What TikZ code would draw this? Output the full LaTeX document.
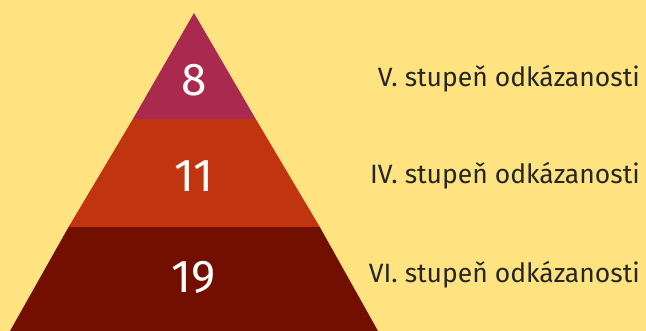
\documentclass[tikz,border=0pt]{standalone}
\usepackage{fontspec}
\setmainfont{Fira Sans}
\usepackage{tikz}
\usetikzlibrary{positioning}

\definecolor{bgyellow}{HTML}{FFE380}
\definecolor{toplayer}{HTML}{A92A4E}
\definecolor{midlayer}{HTML}{C03410}
\definecolor{botlayer}{HTML}{730F00}
\definecolor{labeltext}{HTML}{262626}

\begin{document}
\begin{tikzpicture}[
    x=1pt, y=-1pt,
    count/.style={font=\fontsize{46}{46}\selectfont, text=white, inner sep=0pt},
    level/.style={font=\fontsize{26.5}{26.5}\selectfont, text=labeltext, anchor=base east, inner sep=0pt},
]

% Background
\fill[bgyellow] (0,0) rectangle (646,331);
\useasboundingbox (0,0) rectangle (646,331);

% Pyramid layers
\fill[botlayer] (10,331) -- (68.6,227) -- (319.8,227) -- (378,331) -- cycle;
\fill[midlayer] (68.6,227) -- (132.9,119) -- (255.7,119) -- (319.8,227) -- cycle;
\fill[toplayer] (132.9,119) -- (194,13) -- (255.7,119) -- cycle;

% Counts
\node[count] (eight) at (194,80) {8};
\node[count] (eleven) at (194,176) {11};
\node[count] (nineteen) at (194,277) {19};

% Level labels
\node[level] (five) at (640,87) {V. stupeň odkázanosti};
\node[level] (four) at (640,184) {IV. stupeň odkázanosti};
\node[level] (six) at (640,283) {VI. stupeň odkázanosti};

\end{tikzpicture}
\end{document}
